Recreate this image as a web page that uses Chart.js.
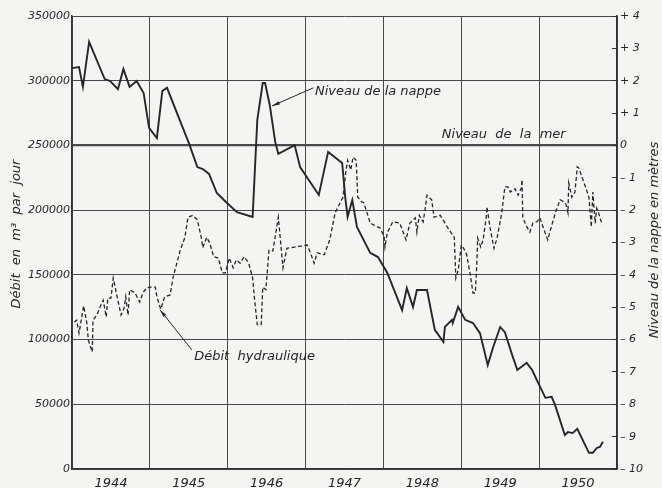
<!DOCTYPE html>
<html>
<head>
<meta charset="utf-8">
<script src="https://cdn.jsdelivr.net/npm/chart.js@4.4.1/dist/chart.umd.min.js"></script>
<style>
  html, body { margin: 0; padding: 0; background: #f4f4f2; }
  canvas { display: block; }
</style>
</head>
<body>
<canvas id="chart" width="662" height="488"></canvas>
<script>
// Niveau de la nappe (m, right axis) — solid line
const levelDates = [1944.00, 1944.09, 1944.14, 1944.22, 1944.42, 1944.49, 1944.59, 1944.66, 1944.74, 1944.83,
  1944.92, 1944.99, 1945.09, 1945.16, 1945.22, 1945.50, 1945.61, 1945.68, 1945.76, 1945.86,
  1945.99, 1946.12, 1946.32, 1946.38, 1946.45, 1946.48, 1946.54, 1946.61, 1946.65, 1946.86,
  1946.93, 1947.17, 1947.29, 1947.47, 1947.51, 1947.54, 1947.60, 1947.66, 1947.83, 1947.93,
  1948.05, 1948.24, 1948.30, 1948.38, 1948.43, 1948.56, 1948.66, 1948.77, 1948.79, 1948.88,
  1948.89, 1948.96, 1949.05, 1949.15, 1949.24, 1949.34, 1949.41, 1949.50, 1949.56, 1949.65,
  1949.72, 1949.84, 1949.91, 1950.00, 1950.08, 1950.16, 1950.20, 1950.33, 1950.37, 1950.43,
  1950.49, 1950.64, 1950.69, 1950.74, 1950.78, 1950.82];
const levels = [2.39, 2.42, 1.81, 3.20, 2.05, 1.99, 1.74, 2.36, 1.81, 1.99,
  1.62, 0.54, 0.23, 1.68, 1.78, 0.08, -0.67, -0.73, -0.88, -1.47,
  -1.78, -2.06, -2.21, 0.79, 1.93, 1.93, 1.25, 0.11, -0.26, 0.01,
  -0.67, -1.53, -0.20, -0.54, -1.62, -2.21, -1.69, -2.52, -3.32, -3.45,
  -3.94, -5.09, -4.41, -4.99, -4.47, -4.47, -5.70, -6.07, -5.61, -5.39,
  -5.49, -4.99, -5.39, -5.49, -5.80, -6.79, -6.23, -5.61, -5.77, -6.45,
  -6.94, -6.72, -6.94, -7.40, -7.80, -7.77, -7.99, -8.95, -8.86, -8.89,
  -8.76, -9.50, -9.50, -9.35, -9.32, -9.16];

// Débit hydraulique (m³ par jour, left axis) — dashed line
const flowDates = [1944.03, 1944.06, 1944.09, 1944.15, 1944.19, 1944.21, 1944.26, 1944.27, 1944.32, 1944.36,
  1944.40, 1944.44, 1944.46, 1944.50, 1944.53, 1944.58, 1944.63, 1944.67, 1944.69, 1944.72,
  1944.74, 1944.81, 1944.87, 1944.91, 1944.96, 1945.00, 1945.07, 1945.09, 1945.14, 1945.19,
  1945.26, 1945.30, 1945.34, 1945.39, 1945.45, 1945.49, 1945.55, 1945.61, 1945.66, 1945.68,
  1945.73, 1945.77, 1945.82, 1945.88, 1945.93, 1945.97, 1946.02, 1946.07, 1946.11, 1946.16,
  1946.21, 1946.27, 1946.32, 1946.35, 1946.38, 1946.43, 1946.45, 1946.49, 1946.53, 1946.58,
  1946.65, 1946.71, 1946.76, 1947.02, 1947.06, 1947.11, 1947.15, 1947.24, 1947.31, 1947.38,
  1947.48, 1947.52, 1947.54, 1947.58, 1947.61, 1947.65, 1947.67, 1947.72, 1947.75, 1947.83,
  1947.96, 1948.01, 1948.02, 1948.05, 1948.12, 1948.21, 1948.29, 1948.34, 1948.41, 1948.43,
  1948.46, 1948.51, 1948.53, 1948.56, 1948.62, 1948.65, 1948.73, 1948.82, 1948.88, 1948.91,
  1948.93, 1948.96, 1949.00, 1949.03, 1949.07, 1949.12, 1949.15, 1949.18, 1949.20, 1949.21,
  1949.25, 1949.28, 1949.32, 1949.33, 1949.37, 1949.42, 1949.46, 1949.52, 1949.56, 1949.60,
  1949.63, 1949.69, 1949.73, 1949.77, 1949.78, 1949.79, 1949.83, 1949.88, 1949.92, 1949.97,
  1950.01, 1950.05, 1950.11, 1950.17, 1950.22, 1950.27, 1950.34, 1950.37, 1950.38, 1950.42,
  1950.46, 1950.49, 1950.51, 1950.55, 1950.61, 1950.64, 1950.67, 1950.69, 1950.72, 1950.74,
  1950.76, 1950.81];
const flows = [113500, 115000, 105000, 126000, 113000, 99500, 90500, 115000, 119000, 125000,
  130500, 117500, 132000, 132000, 147500, 133000, 119000, 124500, 133000, 119000,
  138500, 136000, 129000, 136000, 140000, 140500, 140500, 133000, 123500, 133000,
  134500, 148500, 157500, 169000, 179000, 194500, 196000, 192500, 179000, 171000,
  179000, 174500, 164000, 163000, 151500, 151500, 163000, 155500, 161500, 159000,
  164000, 159000, 147500, 128000, 111500, 111500, 140500, 138500, 169000, 168500,
  194500, 155500, 170500, 173000, 167500, 159000, 167000, 165500, 177000, 198000,
  210000, 231000, 238500, 231000, 241000, 238500, 210000, 206500, 205500, 190000,
  186000, 179000, 171500, 182500, 191000, 190000, 177000, 190000, 194000, 183000,
  196000, 191000, 198500, 211500, 208000, 194500, 196000, 187000, 181500, 179000,
  147500, 153500, 173000, 170500, 165500, 148500, 136000, 136000, 159000, 178500,
  171500, 177000, 194000, 202500, 186000, 170500, 178500, 198000, 218000, 218000,
  214000, 216500, 211500, 217000, 223500, 194500, 188500, 183000, 190000, 191000,
  194000, 187000, 177000, 190000, 200000, 208000, 205500, 198000, 221000, 210000,
  214000, 233500, 232500, 225500, 215500, 209500, 187000, 214000, 190000, 201500,
  198500, 188500];

const yearLabels = ['1944', '1945', '1946', '1947', '1948', '1949', '1950'];

const INK = '#262626';
const FONT = '"DejaVu Sans", sans-serif';

const textLayer = {
  id: 'textLayer',
  afterDatasetsDraw(chart) {
    const { ctx, scales: { x, y, y2 } } = chart;
    ctx.save();
    ctx.fillStyle = INK;
    ctx.strokeStyle = INK;
    ctx.lineWidth = 1;
    ctx.font = 'italic 13px ' + FONT;
    ctx.textBaseline = 'middle';
    ctx.textAlign = 'left';

    ctx.fillText('Niveau de la nappe', x.getPixelForValue(1947.12), y2.getPixelForValue(1.65));
    ctx.fillText('Niveau  de  la  mer', x.getPixelForValue(1948.75), y2.getPixelForValue(0.32));
    ctx.fillText('Débit  hydraulique', x.getPixelForValue(1945.57), y.getPixelForValue(86500));

    arrow(ctx, x.getPixelForValue(1947.10), y2.getPixelForValue(1.78),
      x.getPixelForValue(1946.57), y2.getPixelForValue(1.22));
    arrow(ctx, x.getPixelForValue(1945.54), y.getPixelForValue(92000),
      x.getPixelForValue(1945.13), y.getPixelForValue(123000));

    // axis titles, both read bottom to top
    ctx.textAlign = 'center';
    ctx.save();
    ctx.translate(17, 234);
    ctx.rotate(-Math.PI / 2);
    ctx.fillText('Débit  en  m³  par  jour', 0, 0);
    ctx.restore();
    ctx.save();
    ctx.translate(655, 240);
    ctx.rotate(-Math.PI / 2);
    ctx.fillText('Niveau de la nappe en mètres', 0, 0);
    ctx.restore();
    ctx.restore();
  }
};

function arrow(ctx, x1, y1, x2, y2) {
  ctx.beginPath();
  ctx.moveTo(x1, y1);
  ctx.lineTo(x2, y2);
  ctx.stroke();
  const a = Math.atan2(y2 - y1, x2 - x1);
  ctx.beginPath();
  ctx.moveTo(x2, y2);
  ctx.lineTo(x2 - 8 * Math.cos(a - 0.22), y2 - 8 * Math.sin(a - 0.22));
  ctx.lineTo(x2 - 8 * Math.cos(a + 0.22), y2 - 8 * Math.sin(a + 0.22));
  ctx.closePath();
  ctx.fill();
}

new Chart(document.getElementById('chart'), {
  type: 'line',
  data: {
    datasets: [
      {
        label: 'Niveau de la nappe',
        data: levelDates.map((d, i) => ({ x: d, y: levels[i] })),
        yAxisID: 'y2',
        borderColor: INK,
        borderWidth: 1.9,
        pointRadius: 0,
        tension: 0,
      },
      {
        label: 'Débit hydraulique',
        data: flowDates.map((d, i) => ({ x: d, y: flows[i] })),
        yAxisID: 'y',
        borderColor: INK,
        borderWidth: 1.3,
        borderDash: [4, 2.5],
        pointRadius: 0,
        tension: 0,
      },
    ],
  },
  options: {
    responsive: false,
    devicePixelRatio: 1,
    animation: false,
    layout: { padding: { top: 16, left: 0, right: 0, bottom: 0 } },
    plugins: { legend: { display: false }, tooltip: { enabled: false } },
    scales: {
      x: {
        type: 'linear',
        min: 1944,
        max: 1951,
        afterFit: (s) => { s.height = 19; },
        afterBuildTicks: (s) => {
          const t = [];
          for (let v = 1944; v <= 1951; v += 0.5) t.push({ value: v });
          s.ticks = t;
        },
        ticks: {
          autoSkip: false,
          maxRotation: 0,
          padding: 7,
          color: INK,
          font: { family: FONT, size: 13, style: 'italic' },
          callback: (v) => (v % 1 === 0.5 ? yearLabels[Math.floor(v) - 1944] : ''),
        },
        grid: {
          drawTicks: false,
          color: (c) => (c.tick && c.tick.value % 1 === 0 ? '#4a4a4a' : 'rgba(0,0,0,0)'),
          lineWidth: 1,
        },
        border: { display: true, color: '#333', width: 1.5 },
      },
      y: {
        position: 'left',
        min: 0,
        max: 350000,
        afterFit: (s) => { s.width = 72; },
        ticks: {
          stepSize: 50000,
          padding: 2,
          color: INK,
          font: { family: FONT, size: 11, style: 'italic' },
          callback: (v) => String(v),
        },
        grid: {
          drawTicks: false,
          color: '#4a4a4a',
          lineWidth: (c) => (c.tick && c.tick.value === 250000 ? 2.2 : 1),
        },
        border: { display: true, color: '#333', width: 1.5 },
      },
      y2: {
        position: 'right',
        min: -10,
        max: 4,
        afterFit: (s) => { s.width = 45; },
        ticks: {
          stepSize: 1,
          padding: 8,
          color: INK,
          font: { family: FONT, size: 11, style: 'italic' },
          callback: (v) => (v > 0 ? '+ ' + v : v < 0 ? '– ' + Math.abs(v) : '0'),
        },
        grid: {
          drawOnChartArea: false,
          drawTicks: true,
          tickLength: -5,
          color: '#333',
        },
        border: { display: true, color: '#333', width: 1.5 },
      },
    },
  },
  plugins: [textLayer],
});
</script>
</body>
</html>
